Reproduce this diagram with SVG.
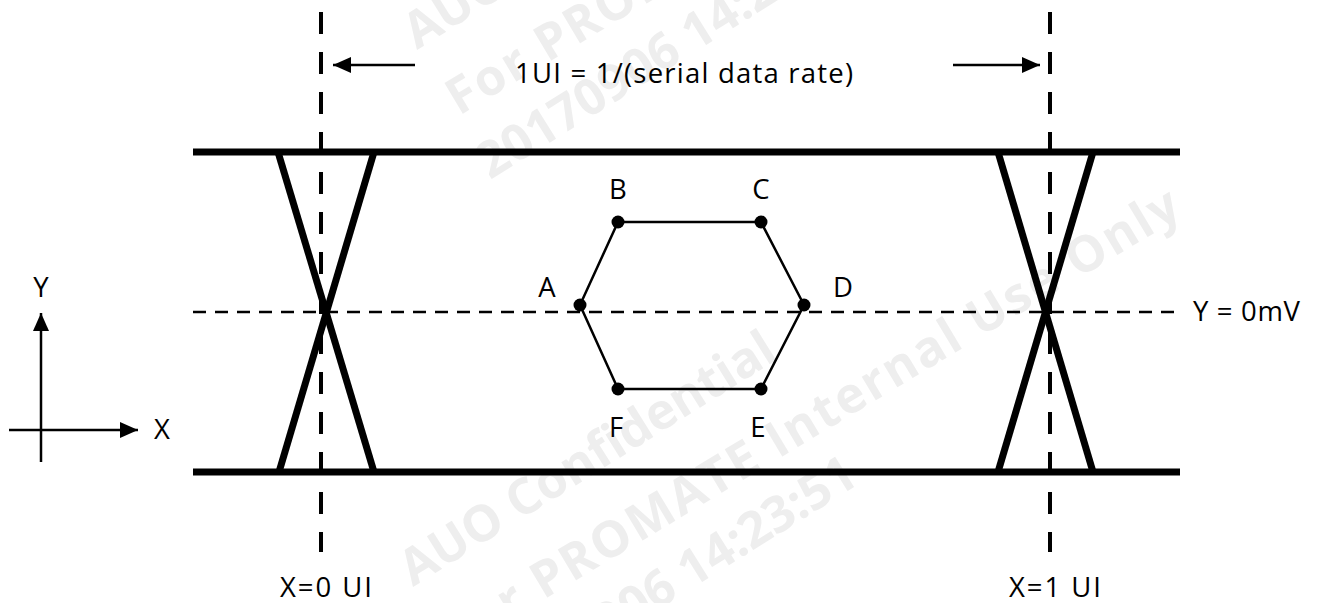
<svg xmlns="http://www.w3.org/2000/svg" width="1321" height="603" viewBox="0 0 1321 603">
<defs>
<style>
.lbl{font-family:"Open Sans","Liberation Sans",sans-serif;font-size:27.5px;fill:#000}
.wm{font-family:"Open Sans","Liberation Sans",sans-serif;font-weight:bold;font-size:50px;fill:#eeeeee}
.thick{stroke:#000;stroke-width:7;fill:none}
.vdash{stroke:#000;stroke-width:4;stroke-dasharray:22 18;fill:none}
.hdash{stroke:#000;stroke-width:2.5;stroke-dasharray:13 9;fill:none}
.thin{stroke:#000;stroke-width:2.5;fill:none}
.dot{fill:#000}
</style>
<marker id="ah2" viewBox="0 0 10 10" refX="10" refY="5" markerWidth="18" markerHeight="16" markerUnits="userSpaceOnUse" orient="auto" preserveAspectRatio="none">
<path d="M0,0 L10,5 L0,10 z" fill="#000"/>
</marker>
</defs>
<rect width="1321" height="603" fill="#fff"/>
<g id="watermark">
<text class="wm" transform="translate(417,50) rotate(-32)" textLength="432">AUO Confidential</text>
<text class="wm" transform="translate(459,116) rotate(-31)" textLength="850">For PROMATE Internal Use Only</text>
<text class="wm" transform="translate(490,180) rotate(-32)">20170906 14:23:51</text>
<text class="wm" transform="translate(413,587) rotate(-32)" textLength="432">AUO Confidential</text>
<text class="wm" transform="translate(455,653) rotate(-31)" textLength="850">For PROMATE Internal Use Only</text>
<text class="wm" transform="translate(486,717) rotate(-32)">20170906 14:23:51</text>
</g>
<g id="connectors">
<line class="vdash" x1="321" y1="12" x2="321" y2="552"/>
<line class="vdash" x1="1050" y1="12" x2="1050" y2="552"/>
<line class="hdash" x1="193" y1="312" x2="1180" y2="312"/>
<line class="thick" x1="193" y1="152" x2="1180" y2="152"/>
<line class="thick" x1="193" y1="472" x2="1180" y2="472"/>
<line class="thick" x1="278" y1="152" x2="374" y2="472"/>
<line class="thick" x1="374" y1="152" x2="279" y2="472"/>
<line class="thick" x1="998" y1="152" x2="1093" y2="472"/>
<line class="thick" x1="1093" y1="152" x2="998" y2="472"/>
<line class="thin" x1="415" y1="65" x2="333" y2="65" marker-end="url(#ah2)"/>
<line class="thin" x1="953" y1="65" x2="1040" y2="65" marker-end="url(#ah2)"/>
<line class="thin" x1="41" y1="462" x2="41" y2="313" marker-end="url(#ah2)"/>
<line class="thin" x1="9" y1="430" x2="138" y2="430" marker-end="url(#ah2)"/>
<polygon class="thin" points="580,305 618,222 761,222 804,305 761,389 618,389"/>
</g>
<g id="node-A"><circle class="dot" cx="580" cy="305" r="6.5"/><text class="lbl" x="547" y="297" text-anchor="middle">A</text></g>
<g id="node-B"><circle class="dot" cx="618" cy="222" r="6.5"/><text class="lbl" x="618" y="199" text-anchor="middle">B</text></g>
<g id="node-C"><circle class="dot" cx="761" cy="222" r="6.5"/><text class="lbl" x="761" y="199" text-anchor="middle">C</text></g>
<g id="node-D"><circle class="dot" cx="804" cy="305" r="6.5"/><text class="lbl" x="843" y="297" text-anchor="middle">D</text></g>
<g id="node-E"><circle class="dot" cx="761" cy="389" r="6.5"/><text class="lbl" x="758" y="437" text-anchor="middle">E</text></g>
<g id="node-F"><circle class="dot" cx="618" cy="389" r="6.5"/><text class="lbl" x="616" y="437" text-anchor="middle">F</text></g>
<g id="labels">
<text class="lbl" x="515" y="83" textLength="338">1UI = 1/(serial data rate)</text>
<text class="lbl" x="1193" y="321" textLength="107">Y = 0mV</text>
<text class="lbl" x="41" y="297" text-anchor="middle">Y</text>
<text class="lbl" x="162" y="439" text-anchor="middle">X</text>
<text class="lbl" x="280" y="597" textLength="92">X=0 UI</text>
<text class="lbl" x="1009" y="597" textLength="92">X=1 UI</text>
</g>
</svg>
